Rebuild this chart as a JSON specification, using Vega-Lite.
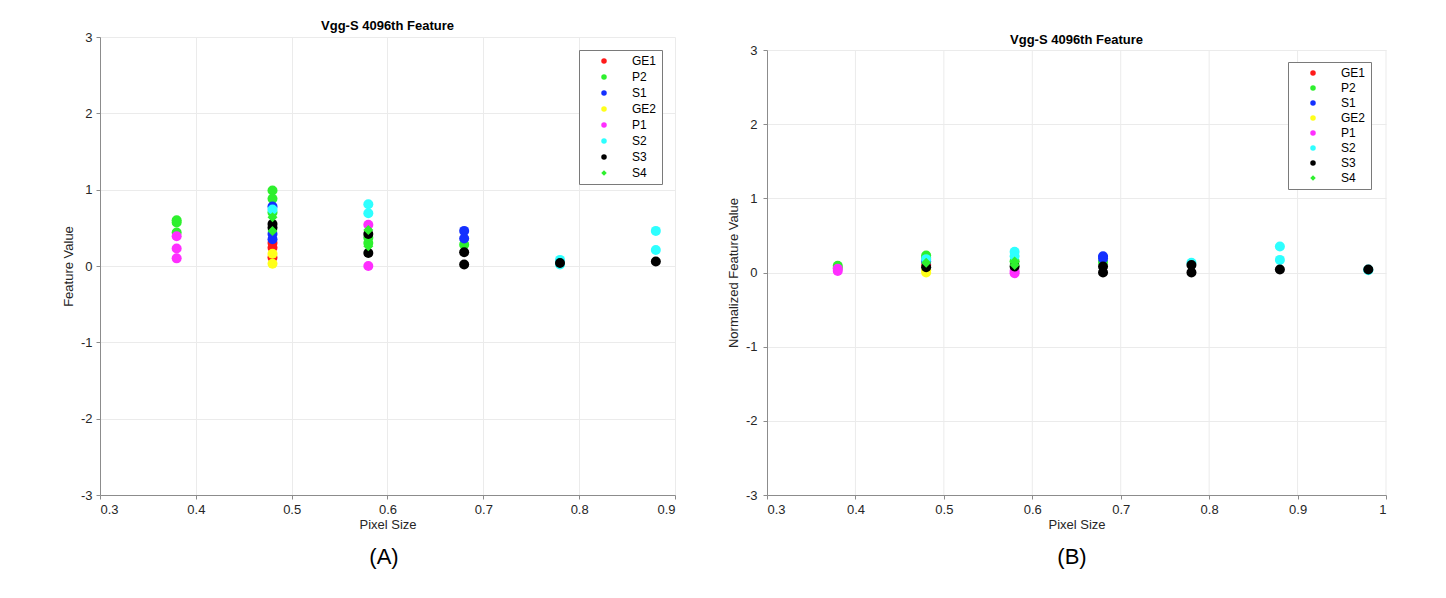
{
  "$schema": "https://vega.github.io/schema/vega-lite/v6.json",
  "background": "white",
  "padding": {"left": 62, "top": 20, "right": 5, "bottom": 5},
  "spacing": 51,
  "config": {
    "font": "Liberation Sans",
    "view": {"stroke": null},
    "axis": {
      "labelFont": "Liberation Sans", "labelFontSize": 13, "labelColor": "#262626",
      "titleFont": "Liberation Sans", "titleFontSize": 13, "titleFontWeight": "normal", "titleColor": "#262626",
      "domainColor": "#8c8c8c", "tickColor": "#8c8c8c", "gridColor": "#ebebeb",
      "labelPadding": 4, "titlePadding": 5, "tickSize": 4
    },
    "axisX": {"titlePadding": 2},
    "title": {"font": "Liberation Sans", "fontSize": 13, "fontWeight": "bold", "color": "#000000"}
  },
  "datasets": {
    "A": [
      {"x": 0.38, "y": 0.60, "series": "P2"}, {"x": 0.38, "y": 0.57, "series": "P2"}, {"x": 0.38, "y": 0.44, "series": "P2"},
      {"x": 0.38, "y": 0.39, "series": "P1"}, {"x": 0.38, "y": 0.23, "series": "P1"}, {"x": 0.38, "y": 0.10, "series": "P1"},
      {"x": 0.48, "y": 0.30, "series": "GE1"}, {"x": 0.48, "y": 0.24, "series": "GE1"}, {"x": 0.48, "y": 0.11, "series": "GE1"},
      {"x": 0.48, "y": 0.99, "series": "P2"}, {"x": 0.48, "y": 0.88, "series": "P2"}, {"x": 0.48, "y": 0.70, "series": "P2"},
      {"x": 0.48, "y": 0.78, "series": "S1"}, {"x": 0.48, "y": 0.42, "series": "S1"}, {"x": 0.48, "y": 0.35, "series": "S1"},
      {"x": 0.48, "y": 0.16, "series": "GE2"}, {"x": 0.48, "y": 0.03, "series": "GE2"},
      {"x": 0.48, "y": 0.74, "series": "S2"},
      {"x": 0.48, "y": 0.55, "series": "S3"}, {"x": 0.48, "y": 0.50, "series": "S3"},
      {"x": 0.48, "y": 0.64, "series": "S4"}, {"x": 0.48, "y": 0.46, "series": "S4"},
      {"x": 0.58, "y": 0.37, "series": "P2"}, {"x": 0.58, "y": 0.30, "series": "P2"},
      {"x": 0.58, "y": 0.54, "series": "P1"}, {"x": 0.58, "y": 0.00, "series": "P1"},
      {"x": 0.58, "y": 0.81, "series": "S2"}, {"x": 0.58, "y": 0.69, "series": "S2"},
      {"x": 0.58, "y": 0.42, "series": "S3"}, {"x": 0.58, "y": 0.17, "series": "S3"},
      {"x": 0.58, "y": 0.47, "series": "S4"}, {"x": 0.58, "y": 0.26, "series": "S4"},
      {"x": 0.68, "y": 0.28, "series": "P2"},
      {"x": 0.68, "y": 0.46, "series": "S1"}, {"x": 0.68, "y": 0.36, "series": "S1"},
      {"x": 0.68, "y": 0.18, "series": "S3"}, {"x": 0.68, "y": 0.02, "series": "S3"},
      {"x": 0.78, "y": 0.08, "series": "S2"}, {"x": 0.78, "y": 0.02, "series": "S2"},
      {"x": 0.78, "y": 0.04, "series": "S3"},
      {"x": 0.88, "y": 0.46, "series": "S2"}, {"x": 0.88, "y": 0.21, "series": "S2"},
      {"x": 0.88, "y": 0.06, "series": "S3"}
    ],
    "B": [
      {"x": 0.48, "y": 0.10, "series": "GE1"},
      {"x": 0.38, "y": 0.09, "series": "P2"}, {"x": 0.38, "y": 0.06, "series": "P2"},
      {"x": 0.48, "y": 0.23, "series": "P2"}, {"x": 0.48, "y": 0.20, "series": "P2"},
      {"x": 0.58, "y": 0.15, "series": "P2"}, {"x": 0.68, "y": 0.14, "series": "P2"},
      {"x": 0.48, "y": 0.15, "series": "S1"}, {"x": 0.68, "y": 0.22, "series": "S1"}, {"x": 0.68, "y": 0.19, "series": "S1"},
      {"x": 0.48, "y": 0.03, "series": "GE2"}, {"x": 0.48, "y": 0.00, "series": "GE2"},
      {"x": 0.38, "y": 0.05, "series": "P1"}, {"x": 0.38, "y": 0.02, "series": "P1"},
      {"x": 0.58, "y": 0.02, "series": "P1"}, {"x": 0.58, "y": -0.01, "series": "P1"},
      {"x": 0.48, "y": 0.18, "series": "S2"}, {"x": 0.58, "y": 0.28, "series": "S2"}, {"x": 0.58, "y": 0.22, "series": "S2"},
      {"x": 0.78, "y": 0.13, "series": "S2"}, {"x": 0.88, "y": 0.35, "series": "S2"}, {"x": 0.88, "y": 0.17, "series": "S2"},
      {"x": 0.98, "y": 0.04, "series": "S2"}, {"x": 0.98, "y": 0.03, "series": "S2"},
      {"x": 0.48, "y": 0.07, "series": "S3"}, {"x": 0.58, "y": 0.08, "series": "S3"},
      {"x": 0.68, "y": 0.08, "series": "S3"}, {"x": 0.68, "y": 0.00, "series": "S3"},
      {"x": 0.78, "y": 0.10, "series": "S3"}, {"x": 0.78, "y": 0.00, "series": "S3"},
      {"x": 0.88, "y": 0.04, "series": "S3"}, {"x": 0.98, "y": 0.04, "series": "S3"},
      {"x": 0.48, "y": 0.13, "series": "S4"}, {"x": 0.58, "y": 0.15, "series": "S4"}, {"x": 0.58, "y": 0.10, "series": "S4"}
    ],
    "gridB": [
      {"x": 0.4}, {"x": 0.5}, {"x": 0.6}, {"x": 0.7}, {"x": 0.8}, {"x": 0.9}, {"x": 1.0}
    ]
  },
  "hconcat": [
    {
      "title": {"text": "(A)", "orient": "bottom", "fontSize": 22, "fontWeight": "normal", "offset": 16, "anchor": "middle", "frame": "bounds", "dx": 15},
      "resolve": {"scale": {"color": "independent", "shape": "independent"}, "legend": {"color": "independent", "shape": "independent"}},
      "vconcat": [
        {
          "width": 575, "height": 458,
          "title": {"text": "Vgg-S 4096th Feature", "offset": -2},
          "data": {"name": "A"},
          "mark": {"type": "point", "filled": true, "opacity": 1, "size": 100},
          "encoding": {
            "x": {"field": "x", "type": "quantitative",
              "scale": {"domain": [0.3, 0.9], "nice": false, "zero": false},
              "axis": {"title": "Pixel Size", "values": [0.3, 0.4, 0.5, 0.6, 0.7, 0.8, 0.9], "labelExpr": "'' + datum.value", "grid": true}},
            "y": {"field": "y", "type": "quantitative",
              "scale": {"domain": [-3, 3], "nice": false, "zero": false},
              "axis": {"title": "Feature Value", "values": [-3, -2, -1, 0, 1, 2, 3], "labelExpr": "'' + datum.value", "grid": true}},
            "color": {"field": "series", "type": "nominal",
              "scale": {"domain": ["GE1", "P2", "S1", "GE2", "P1", "S2", "S3", "S4"],
                "range": ["#ff1a1a", "#2ef02e", "#1430ff", "#ffff1a", "#ff2eff", "#2effff", "#000000", "#2ef02e"]},
              "legend": {"orient": "top-right", "offset": 13, "title": null,
                "strokeColor": "#7a7a7a", "fillColor": "white", "padding": 5,
                "symbolOffset": 14, "labelOffset": 22, "symbolSize": 30, "rowPadding": 4,
                "labelFontSize": 12, "labelColor": "#000000", "labelFont": "Liberation Sans"}},
            "shape": {"field": "series", "type": "nominal",
              "scale": {"domain": ["GE1", "P2", "S1", "GE2", "P1", "S2", "S3", "S4"],
                "range": ["circle", "circle", "circle", "circle", "circle", "circle", "circle", "diamond"]}}
          }
        }
      ]
    },
    {
      "title": {"text": "(B)", "orient": "bottom", "fontSize": 22, "fontWeight": "normal", "offset": 16, "anchor": "middle", "frame": "bounds", "dx": 15},
      "resolve": {"scale": {"color": "independent", "shape": "independent"}, "legend": {"color": "independent", "shape": "independent"}},
      "vconcat": [
        {
          "width": 619, "height": 458,
          "title": {"text": "Vgg-S 4096th Feature", "offset": -2, "dy": 8},
          "layer": [
            {
              "data": {"name": "gridB"},
              "mark": {"type": "rule", "color": "#ebebeb", "strokeWidth": 1},
              "encoding": {
                "x": {"field": "x", "type": "quantitative"},
                "y": {"datum": 3, "type": "quantitative"},
                "y2": {"datum": -3}
              }
            },
            {
              "data": {"name": "B"},
              "mark": {"type": "point", "filled": true, "opacity": 1, "size": 100},
              "encoding": {
                "x": {"field": "x", "type": "quantitative"},
                "y": {"field": "y", "type": "quantitative"},
                "color": {"field": "series", "type": "nominal",
                  "scale": {"domain": ["GE1", "P2", "S1", "GE2", "P1", "S2", "S3", "S4"],
                    "range": ["#ff1a1a", "#2ef02e", "#1430ff", "#ffff1a", "#ff2eff", "#2effff", "#000000", "#2ef02e"]},
                  "legend": {"orient": "none", "legendX": 521, "legendY": 25, "title": null,
                    "strokeColor": "#7a7a7a", "fillColor": "white", "padding": 5,
                    "symbolOffset": 14, "labelOffset": 22, "symbolSize": 30, "rowPadding": 3,
                    "labelFontSize": 12, "labelColor": "#000000", "labelFont": "Liberation Sans"}},
                "shape": {"field": "series", "type": "nominal",
                  "scale": {"domain": ["GE1", "P2", "S1", "GE2", "P1", "S2", "S3", "S4"],
                    "range": ["circle", "circle", "circle", "circle", "circle", "circle", "circle", "diamond"]}}
              }
            }
          ],
          "encoding": {
            "x": {"scale": {"domain": [0.3, 1.0], "nice": false, "zero": false},
              "axis": {"title": "Pixel Size", "values": [0.3, 0.4, 0.5, 0.6, 0.7, 0.8, 0.9, 1], "labelExpr": "'' + datum.value", "grid": false}},
            "y": {"scale": {"domain": [-3, 3], "nice": false, "zero": false, "range": [458, 13]},
              "axis": {"title": "Normalized Feature Value", "values": [-3, -2, -1, 0, 1, 2, 3], "labelExpr": "'' + datum.value", "grid": true, "labelPadding": 6}}
          }
        }
      ]
    }
  ],
  "resolve": {"scale": {"color": "independent", "shape": "independent"}, "legend": {"color": "independent", "shape": "independent"}}
}
